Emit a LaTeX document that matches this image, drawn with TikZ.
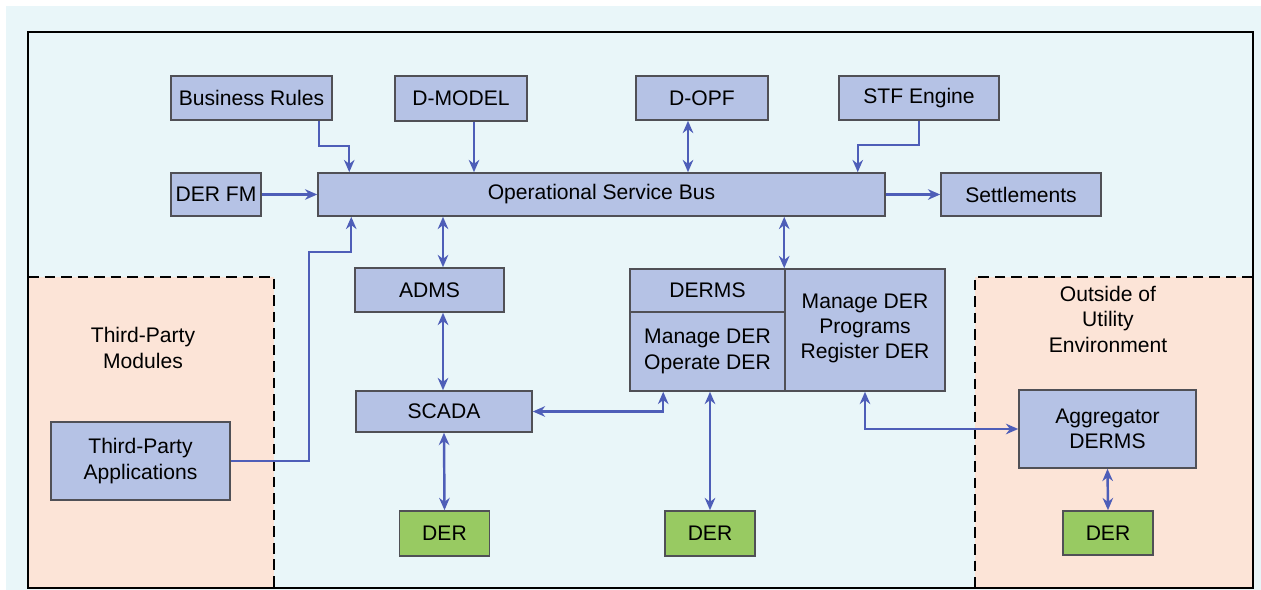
\documentclass[tikz,border=0pt]{standalone}
\usepackage{fontspec}
\setmainfont{Liberation Sans}
\usetikzlibrary{arrows.meta,positioning}

\definecolor{boxblue}{RGB}{181,194,229}
\definecolor{dergreen}{RGB}{152,202,98}
\definecolor{peach}{RGB}{252,228,215}
\definecolor{bgcyan}{RGB}{233,246,249}
\definecolor{linkblue}{RGB}{78,94,184}
\definecolor{edgegray}{RGB}{80,80,86}

\begin{document}
\begin{tikzpicture}[
  x=0.02cm, y=-0.02cm,
  box/.style={rectangle, draw=edgegray, line width=0.9pt, fill=boxblue, align=center,
    inner sep=0pt, font=\fontsize{12}{14.5}\selectfont},
  derbox/.style={box, fill=dergreen, minimum width=1.8cm, minimum height=0.9cm},
  arrow/.style={->, >={Stealth[length=7pt,width=6pt]}, draw=linkblue, line width=1.4pt},
  biarrow/.style={arrow, <->},
  zone/.style={black, line width=1.3pt, dash pattern=on 6pt off 3.4pt},
  note/.style={align=center, font=\fontsize{12}{14.5}\selectfont}
]
\useasboundingbox (0,0) rectangle (1261,590);
\fill[bgcyan] (6,6) rectangle (1261,590);

% Regions outside the utility core
\fill[peach] (28,277) rectangle (274,588);
\fill[peach] (975,277) rectangle (1253,588);
\draw[zone] (28,277) -- (274,277) -- (274,588);
\draw[zone] (1253,277) -- (975,277) -- (975,588);
\draw[black, line width=1.2pt] (28,32) rectangle (1253,588);

\node[note] (tpmod) at (143,348) {Third-Party\\Modules};
\node[note] (outside) at (1108,319) {Outside of\\Utility\\Environment};

% Top row
\node[box, minimum width=3.22cm, minimum height=0.88cm] (rules) at (251.5,98) {Business Rules};
\node[box, minimum width=2.64cm, minimum height=0.9cm] (dmodel) at (461,98.5) {D-MODEL};
\node[box, minimum width=2.64cm, minimum height=0.88cm] (dopf) at (702,98) {D-OPF};
\node[box, minimum width=3.2cm, minimum height=0.88cm] (stf) at (919,98) {STF Engine};

% Service bus row
\node[box, minimum width=11.34cm, minimum height=0.86cm] (bus) at (601.5,194.5) {Operational Service Bus};
\node[box, minimum width=1.8cm, minimum height=0.86cm] (derfm) at (216,194.5) {DER FM};
\node[box, minimum width=3.2cm, minimum height=0.86cm] (settle) at (1021,194.5) {Settlements};

% Control systems
\node[box, minimum width=2.98cm, minimum height=0.88cm] (adms) at (429.5,290) {ADMS};
\node[box, minimum width=3.52cm, minimum height=0.82cm] (scada) at (444,411.5) {SCADA};
\node[box, minimum width=3.1cm, minimum height=0.86cm] (dermstitle) at (707.5,290.5) {DERMS};
\node[box, minimum width=3.1cm, minimum height=1.58cm] (dermsops) at (707.5,351.5) {Manage DER\\Operate DER};
\node[box, minimum width=3.2cm, minimum height=2.44cm, text depth=0.15cm] (dermsprog) at (865,330) {Manage DER\\Programs\\Register DER};
\node[box, minimum width=3.58cm, minimum height=1.56cm] (tpa) at (140.5,461) {Third-Party\\Applications};
\node[box, minimum width=3.54cm, minimum height=1.56cm] (agg) at (1107.5,429) {Aggregator\\DERMS};

% DER units
\node[derbox] (der1) at (444.5,533.5) {DER};
\node[derbox] (der2) at (710,533.5) {DER};
\node[derbox, minimum height=0.88cm] (der3) at (1108,533) {DER};

% Links into the bus
\draw[arrow] ([xshift=1.35cm]rules.south) -- ++(0,25) -| ([xshift=0.64cm]bus.north west);
\draw[arrow] ([xshift=0.26cm]dmodel.south) -- ([xshift=0.26cm]dmodel.south |- bus.north);
\draw[biarrow] ([xshift=-0.28cm]dopf.south) -- ([xshift=-0.28cm]dopf.south |- bus.north);
\draw[arrow] (stf.south) -- ++(0,24) -| ([xshift=-0.56cm]bus.north east);
\draw[arrow] (derfm.east) -- (bus.west);
\draw[arrow] (bus.east) -- (settle.west);
\draw[arrow] (tpa.east) -- ++(78,0) -- ++(0,-209) -| ([xshift=0.68cm]bus.south west);
\draw[biarrow] ([xshift=0.27cm]adms.north |- bus.south) -- ([xshift=0.27cm]adms.north);
\draw[biarrow] (dermsprog.north west |- bus.south) -- (dermsprog.north west);

% Links below
\draw[biarrow] ([xshift=0.27cm]adms.south) -- ([xshift=0.27cm]adms.south |- scada.north);
\draw[biarrow] (scada.south) -- (der1.north);
\draw[biarrow] ([xshift=0.68cm]dermsops.south west) |- (scada.east);
\draw[biarrow] (der2.north |- dermsops.south) -- (der2.north);
\draw[biarrow] (dermsprog.south) |- (agg.west);
\draw[biarrow] (agg.south) -- (der3.north);

\end{tikzpicture}
\end{document}
